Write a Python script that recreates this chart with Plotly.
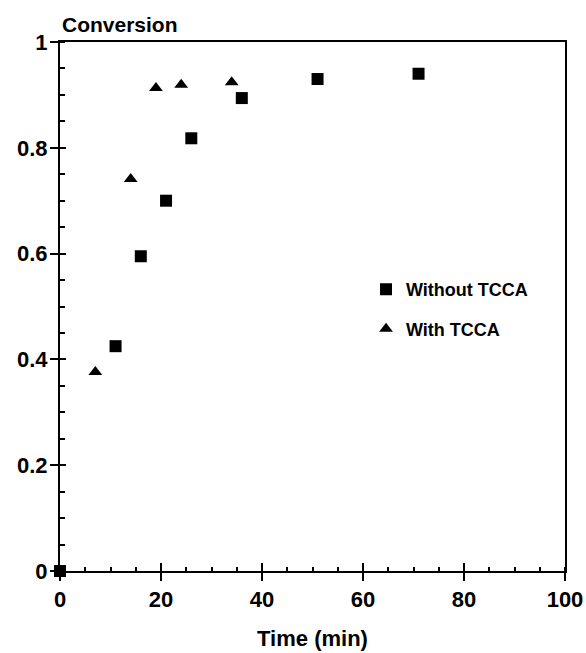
import plotly.graph_objects as go

# Data
time_without = [0, 11, 16, 21, 26, 36, 51, 71]
conv_without = [0.0, 0.425, 0.595, 0.70, 0.818, 0.894, 0.930, 0.940]
time_with = [7, 14, 19, 24, 34]
conv_with = [0.376, 0.741, 0.913, 0.919, 0.924]

x_ticks = [0, 20, 40, 60, 80, 100]
y_ticks = [0, 0.2, 0.4, 0.6, 0.8, 1]
y_tick_labels = ["0", "0.2", "0.4", "0.6", "0.8", "1"]

FONT = "Liberation Sans"

fig = go.Figure()
fig.add_trace(go.Scatter(
    x=time_without, y=conv_without, mode="markers", name="Without TCCA",
    legendgroup="a",
    marker=dict(symbol="square", size=12, color="black"),
    cliponaxis=False,
))
fig.add_trace(go.Scatter(
    x=time_with, y=conv_with, mode="markers", name="With TCCA",
    legendgroup="b", xaxis="x2", yaxis="y2",
    marker=dict(symbol="triangle-up", size=12, color="black"),
    cliponaxis=False,
))

axis_common = dict(showgrid=False, zeroline=False, linecolor="black", linewidth=2,
                   tickcolor="black", tickwidth=2, ticklen=8)

fig.update_layout(
    width=586, height=653,
    margin=dict(l=60, r=21, t=42, b=82, autoexpand=False),
    paper_bgcolor="white", plot_bgcolor="white",
    font=dict(family=FONT, color="black", size=18),
    showlegend=True,
    legend=dict(x=0.606, y=0.567, xanchor="left", yanchor="top",
                font=dict(size=18, family=FONT, color="black", weight="bold"),
                tracegroupgap=13, bgcolor="rgba(0,0,0,0)"),
    xaxis=dict(range=[0, 100], tickvals=x_ticks, ticks="outside", mirror=True,
               showline=True,
               tickfont=dict(size=22, family=FONT, weight="bold"),
               minor=dict(dtick=5, ticks="inside", ticklen=4, tickwidth=1.5, tickcolor="black"),
               title=dict(text="Time (min)", font=dict(size=22, family=FONT, weight="bold"), standoff=19),
               **axis_common),
    yaxis=dict(range=[0, 1], tickvals=y_ticks, ticktext=y_tick_labels, ticks="outside",
               mirror=True, showline=True, ticklabelstandoff=-2,
               tickfont=dict(size=22, family=FONT, weight="bold"),
               minor=dict(dtick=0.05, ticks="inside", ticklen=5, tickwidth=1.5, tickcolor="black"),
               **axis_common),
    xaxis2=dict(overlaying="x", anchor="y", side="bottom", range=[0, 100], tickvals=x_ticks,
                ticks="inside", showticklabels=False, showline=False, showgrid=False,
                zeroline=False, tickcolor="black", tickwidth=2, ticklen=8),
    yaxis2=dict(overlaying="y", anchor="x", side="left", range=[0, 1], tickvals=y_ticks,
                ticks="inside", showticklabels=False, showline=False, showgrid=False,
                zeroline=False, tickcolor="black", tickwidth=2, ticklen=6),
    annotations=[dict(text="Conversion", xref="paper", yref="paper", x=0, y=1,
                      xanchor="left", yanchor="bottom", yshift=4, showarrow=False,
                      font=dict(size=21, family=FONT, color="black", weight="bold"))],
)

fig.write_html("out.html", config={"displayModeBar": False},
               post_script="document.body.style.margin='0';document.body.style.overflow='hidden';")
